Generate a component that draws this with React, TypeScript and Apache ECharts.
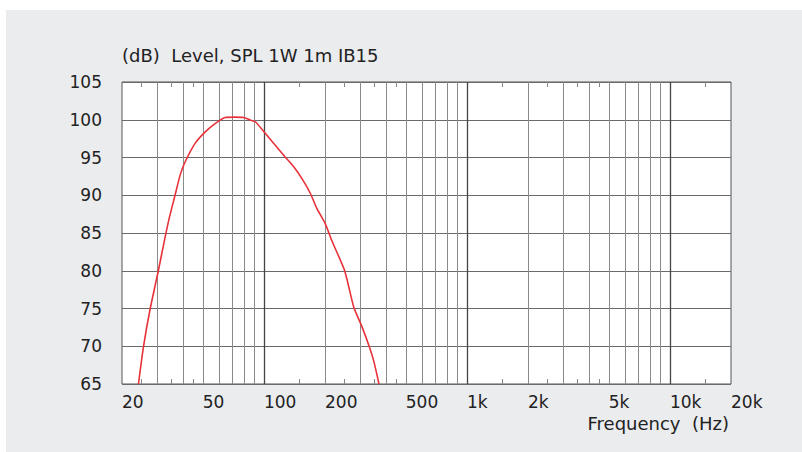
import React, { useEffect, useRef } from "react";
import * as echarts from "echarts";

const freqHz = [24.1, 25.5, 27.5, 30.2, 32.3, 34.2, 36.5, 38.7, 40.9, 45.9, 51.4, 57.5, 64.4, 72, 79.5, 85.6, 91, 101.6, 111.6, 127, 140, 154, 169, 182, 200, 216.7, 250, 277, 304, 331, 348, 369];
const splDb = [65, 69.9, 74.9, 80.0, 83.9, 87.0, 90.0, 92.7, 94.4, 96.9, 98.4, 99.5, 100.3, 100.35, 100.3, 99.97, 99.7, 98.2, 96.9, 95.1, 93.8, 92.2, 90.3, 88.3, 86.3, 83.9, 80.0, 75.2, 72.6, 69.9, 68.0, 65];

const xLabelValues = [20, 50, 100, 200, 500, 1000, 2000, 5000, 10000, 20000];
const xLabelTexts = ["20", "50", "100", "200", "500", "1k", "2k", "5k", "10k", "20k"];
const minorTickValues = [25, 35, 45, 150, 250, 350, 450, 1500, 2500, 3500, 4500, 15000];
const gridLineValues = [30, 40, 50, 60, 70, 80, 90, 200, 300, 400, 500, 600, 700, 800, 900, 2000, 3000, 4000, 5000, 6000, 7000, 8000, 9000];
const decadeLineValues = [100, 1000, 10000];

const titleText = "(dB)  Level, SPL 1W 1m IB15";
const xAxisTitle = "Frequency  (Hz)";

export default function App() {
  const ref = useRef<HTMLDivElement>(null);
  useEffect(() => {
    if (!ref.current) return;
    const chart = echarts.init(ref.current, null, { renderer: "svg" });
    const font = "DejaVu Sans";
    const data = freqHz.map((f, i) => [f, splDb[i]]);
    const markData = [
      ...gridLineValues.map((v) => ({ xAxis: v, lineStyle: { color: "#8a8a8a", width: 1, type: "solid" } })),
      ...decadeLineValues.map((v) => ({ xAxis: v, lineStyle: { color: "#444", width: 1.3, type: "solid" } })),
    ];
    chart.setOption({
      animation: false,
      backgroundColor: "#ffffff",
      textStyle: { fontFamily: font },
      graphic: [
        { type: "rect", z: -10, silent: true, shape: { x: 6, y: 10, width: 796, height: 442 }, style: { fill: "#ebecee" } },
        { type: "text", x: 122, y: 55, style: { text: titleText, font: `18px "${font}"`, fill: "#222", textVerticalAlign: "middle", textAlign: "left" } },
        { type: "text", x: 729, y: 423, style: { text: xAxisTitle, font: `18px "${font}"`, fill: "#222", textVerticalAlign: "middle", textAlign: "right" } },
      ],
      grid: {
        left: 122,
        right: 71,
        top: 82,
        bottom: 68,
        show: true,
        backgroundColor: "#ffffff",
        borderColor: "#555",
        borderWidth: 1,
        z: 0,
      },
      xAxis: [
        {
          type: "log",
          logBase: 10,
          min: 20,
          max: 20000,
          position: "bottom",
          axisLine: { show: false },
          splitLine: { show: false },
          minorSplitLine: { show: false },
          axisTick: {
            show: true,
            inside: true,
            length: 5,
            customValues: minorTickValues,
            lineStyle: { color: "#888", width: 1 },
          },
          axisLabel: {
            show: true,
            customValues: xLabelValues,
            formatter: (v: number) => {
              const i = xLabelValues.findIndex((x) => Math.abs(x - v) / x < 1e-6);
              return i >= 0 ? xLabelTexts[i] : "";
            },
            align: "left",
            margin: 9,
            fontSize: 17,
            fontFamily: font,
            color: "#222",
          },
        },
        {
          type: "log",
          logBase: 10,
          min: 20,
          max: 20000,
          position: "top",
          axisLine: { show: false },
          splitLine: { show: false },
          axisTick: {
            show: true,
            inside: true,
            length: 5,
            customValues: minorTickValues,
            lineStyle: { color: "#888", width: 1 },
          },
          axisLabel: { show: false },
        },
      ],
      yAxis: {
        type: "value",
        min: 65,
        max: 105,
        interval: 5,
        axisLine: { show: false },
        axisTick: { show: false },
        axisLabel: { margin: 20, fontSize: 17, fontFamily: font, color: "#222" },
        splitLine: { show: true, lineStyle: { color: "#6a6a6a", width: 1.2 } },
      },
      series: [
        {
          type: "line",
          xAxisIndex: 0,
          data,
          showSymbol: false,
          symbol: "none",
          smooth: 0.2,
          z: 3,
          lineStyle: { color: "#e8323a", width: 1.6 },
          markLine: {
            silent: true,
            z: 1,
            symbol: ["none", "none"],
            label: { show: false },
            emphasis: { disabled: true },
            data: markData,
          },
        },
      ],
    });
    return () => chart.dispose();
  }, []);
  return <div ref={ref} style={{ position: "fixed", left: 0, top: 0, width: 802, height: 452 }} />;
}
